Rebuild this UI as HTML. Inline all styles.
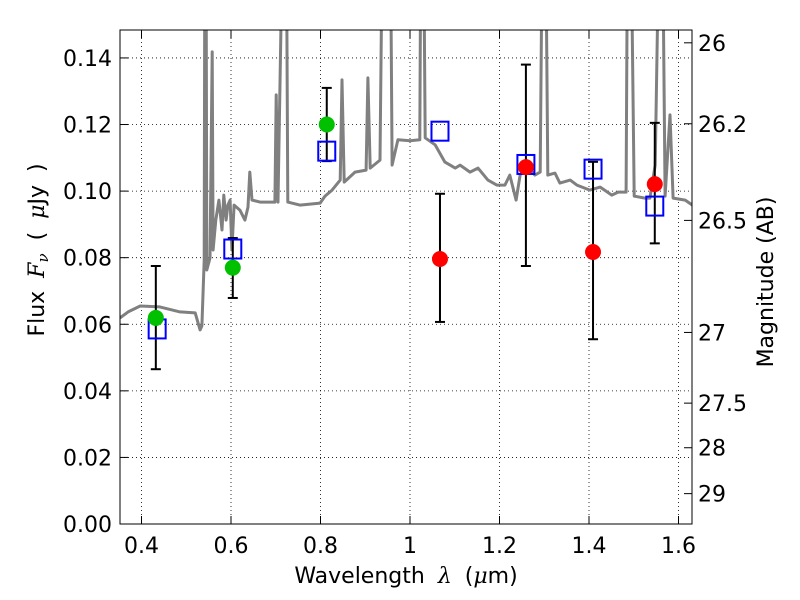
<!DOCTYPE html>
<html><head><meta charset="utf-8"><style>body{margin:0;background:#fff}svg{display:block}</style></head>
<body>
<svg id="chart" width="800" height="600" xmlns="http://www.w3.org/2000/svg" font-family="DejaVu Sans, Liberation Sans, sans-serif">
<defs><clipPath id="pc"><rect x="120" y="30" width="572" height="494"/></clipPath></defs>
<rect x="0" y="0" width="800" height="600" fill="#fff"/>
<g id="grid"></g>
<g id="spec" clip-path="url(#pc)"></g>
<g id="marks"></g>
<rect x="120" y="30" width="572" height="494" fill="none" stroke="#000" stroke-width="1"/>
<g id="axes"></g>
<text x="406" y="583" font-size="22" text-anchor="middle" word-spacing="6">Wavelength <tspan font-style="italic" font-family="DejaVu Serif, serif">λ</tspan> (<tspan font-style="italic" font-family="DejaVu Serif, serif">μ</tspan>m)</text>
<text transform="translate(44,250) rotate(-90)" font-size="22" text-anchor="middle" word-spacing="6">Flux <tspan font-style="italic" font-family="DejaVu Serif, serif">F</tspan><tspan font-style="italic" font-size="15" dy="4" font-family="DejaVu Serif, serif">ν</tspan><tspan dy="-4"> ( </tspan><tspan font-style="italic" font-family="DejaVu Serif, serif">μ</tspan>Jy )</text>
<text transform="translate(773,282) rotate(-90)" font-size="22" text-anchor="middle">Magnitude (AB)</text>
</svg>
<script>
const xTicks=[0.4,0.6,0.8,1.0,1.2,1.4,1.6];
const xTickLabels=["0.4","0.6","0.8","1","1.2","1.4","1.6"];
const yTicks=[0,0.02,0.04,0.06,0.08,0.10,0.12,0.14];
const yTickLabels=["0.00","0.02","0.04","0.06","0.08","0.10","0.12","0.14"];
const magTicks=[26,26.2,26.5,27,27.5,28,29];
const magTickLabels=["26","26.2","26.5","27","27.5","28","29"];
const specWl=[0.352,0.370,0.397,0.441,0.486,0.520,0.531,0.535,0.540,0.542,0.544,0.546,0.553,0.558,0.560,0.566,0.573,0.580,0.584,0.589,0.593,0.598,0.602,0.607,0.620,0.631,0.638,0.642,0.647,0.665,0.698,0.701,0.705,0.718,0.723,0.727,0.754,0.799,0.810,0.826,0.844,0.848,0.853,0.877,0.902,0.906,0.911,0.933,0.940,0.955,0.960,0.973,1.000,1.022,1.025,1.029,1.034,1.056,1.078,1.101,1.112,1.134,1.152,1.174,1.194,1.212,1.223,1.237,1.246,1.259,1.279,1.291,1.297,1.302,1.308,1.324,1.335,1.358,1.373,1.402,1.425,1.451,1.465,1.483,1.487,1.492,1.501,1.525,1.536,1.548,1.559,1.563,1.570,1.581,1.588,1.615,1.631];
const specFlux=[0.0619,0.0637,0.0655,0.0652,0.0637,0.0634,0.0583,0.0595,0.0793,0.2,0.2,0.0763,0.0799,0.1418,0.0823,0.0913,0.0973,0.0883,0.0988,0.0913,0.0958,0.0973,0.0823,0.0958,0.0943,0.0913,0.0952,0.1057,0.0973,0.0967,0.0967,0.1289,0.0967,0.2,0.2,0.0967,0.0958,0.0964,0.0985,0.1003,0.1033,0.1334,0.1027,0.1057,0.1063,0.134,0.1069,0.1093,0.2,0.2,0.1078,0.1154,0.1151,0.1154,0.2,0.2,0.116,0.1139,0.1087,0.1069,0.1078,0.1057,0.1069,0.1033,0.1018,0.1018,0.1048,0.0973,0.1048,0.1078,0.1048,0.1057,0.2,0.2,0.1048,0.1054,0.1024,0.1033,0.1018,0.1003,0.1012,0.0988,0.0997,0.0997,0.2,0.2,0.0985,0.0979,0.0979,0.1078,0.2,0.2,0.0985,0.1229,0.0979,0.0973,0.0958];
const greenWl=[0.432,0.604,0.814];
const greenFlux=[0.0619,0.077,0.120];
const greenLo=[0.0465,0.0679,0.109];
const greenHi=[0.0775,0.0859,0.131];
const redWl=[1.067,1.259,1.409,1.547];
const redFlux=[0.0796,0.1072,0.0817,0.1021];
const redLo=[0.0607,0.0775,0.0555,0.0843];
const redHi=[0.0992,0.138,0.1088,0.1205];
const modelWl=[0.435,0.604,0.814,1.067,1.259,1.409,1.547];
const modelFlux=[0.0586,0.0826,0.112,0.118,0.108,0.1066,0.0955];

const X=w=>141.5+(w-0.4)*447.5;
const Y=f=>524-f*3329;
const magToFlux=m=>Math.pow(10,(23.9-m)/2.5);
const NS="http://www.w3.org/2000/svg";
function mk(tag,attrs,parent){const e=document.createElementNS(NS,tag);for(const k in attrs)e.setAttribute(k,attrs[k]);parent.appendChild(e);return e;}
const grid=document.getElementById('grid'),axes=document.getElementById('axes'),spec=document.getElementById('spec'),marks=document.getElementById('marks');
xTicks.forEach((t,i)=>{const x=X(t);
 let g=mk('line',{x1:x,x2:x,y1:30,y2:524,stroke:'#000','stroke-dasharray':'1,3','stroke-width':0.8},grid);
 
 mk('line',{x1:x,x2:x,y1:524,y2:516,stroke:'#000'},axes);mk('line',{x1:x,x2:x,y1:30,y2:38,stroke:'#000'},axes);
 let tx=mk('text',{x:x,y:553,'font-size':22,'text-anchor':'middle'},axes);tx.textContent=xTickLabels[i];
 });
yTicks.forEach((t,i)=>{const y=Y(t);
 let g=mk('line',{x1:120,x2:692,y1:y,y2:y,stroke:'#000','stroke-dasharray':'1,3','stroke-width':0.8},grid);
 
 mk('line',{x1:120,x2:128,y1:y,y2:y,stroke:'#000'},axes);
 let tx=mk('text',{x:112,y:y+8,'font-size':22,'text-anchor':'end'},axes);tx.textContent=yTickLabels[i];
 });
magTicks.forEach((m,i)=>{const y=Y(magToFlux(m));
 mk('line',{x1:684,x2:692,y1:y,y2:y,stroke:'#000'},axes);
 let tx=mk('text',{x:698,y:y+8,'font-size':22},axes);tx.textContent=magTickLabels[i];
 });
let d=specWl.map((w,i)=>(i?'L':'M')+X(w).toFixed(1)+','+Y(specFlux[i]).toFixed(1)).join('');
let p=mk('path',{d:d,fill:'none',stroke:'#808080','stroke-width':3,'stroke-linejoin':'round'},spec);

function errbar(w,lo,hi){const x=X(w);
 let l=mk('line',{x1:x,x2:x,y1:Y(lo),y2:Y(hi),stroke:'#000','stroke-width':2},marks);
 
 mk('line',{x1:x-5,x2:x+5,y1:Y(lo),y2:Y(lo),stroke:'#000','stroke-width':2},marks);
 mk('line',{x1:x-5,x2:x+5,y1:Y(hi),y2:Y(hi),stroke:'#000','stroke-width':2},marks);}
greenWl.forEach((w,i)=>errbar(w,greenLo[i],greenHi[i]));
redWl.forEach((w,i)=>errbar(w,redLo[i],redHi[i]));
modelWl.forEach((w,i)=>{let r=mk('rect',{x:X(w)-8.5,y:Y(modelFlux[i])-9.5,width:17,height:19,fill:'none',stroke:'#0000ff','stroke-width':2},marks);
 });
greenWl.forEach((w,i)=>{let c=mk('circle',{cx:X(w),cy:Y(greenFlux[i]),r:8,fill:'#00c000'},marks);
 });
redWl.forEach((w,i)=>{let c=mk('circle',{cx:X(w),cy:Y(redFlux[i]),r:8,fill:'#ff0000'},marks);
 });
</script>
</body></html>
